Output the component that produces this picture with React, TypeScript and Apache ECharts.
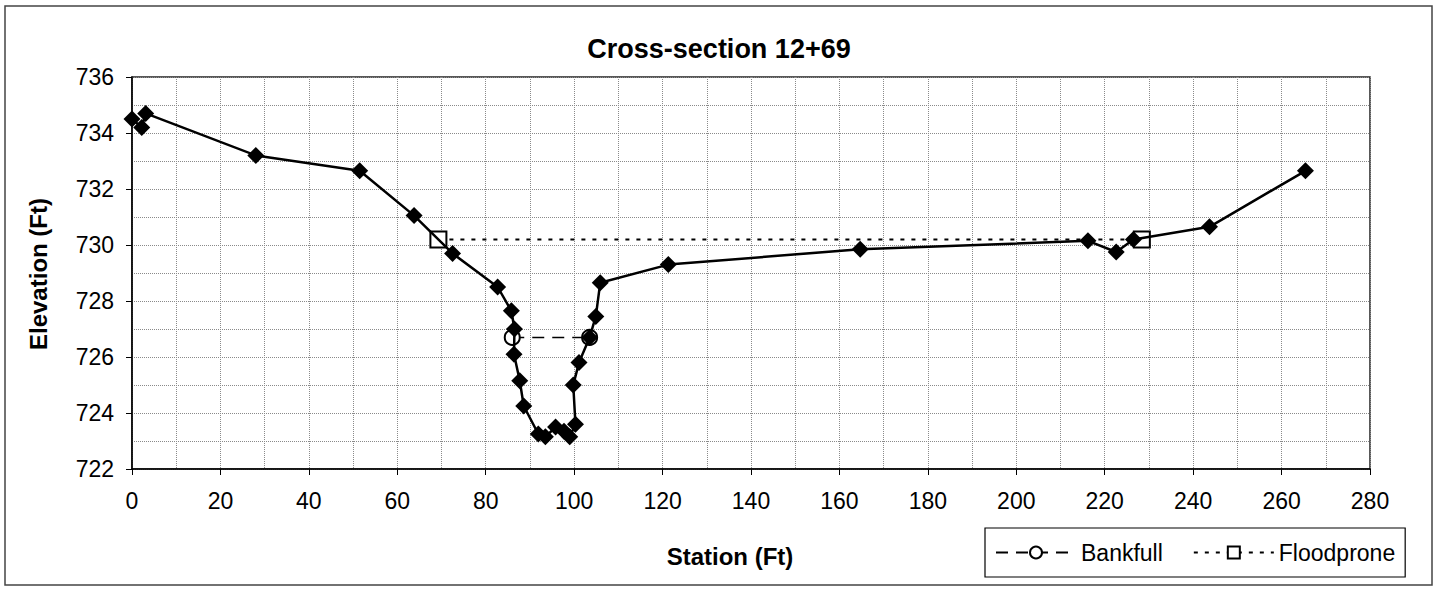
import React, { useEffect, useRef } from "react";
import * as echarts from "echarts";

const TITLE = "Cross-section 12+69";
const X_TITLE = "Station (Ft)";
const Y_TITLE = "Elevation (Ft)";

// Surveyed ground points (station, elevation)
const groundStation = [
  0, 2.2, 3.1, 28.0, 51.5, 63.8, 72.5, 82.7, 85.8, 86.5, 86.4, 87.7, 88.6,
  91.9, 93.5, 95.8, 97.7, 99.0, 100.3, 99.8, 101.1, 103.5, 104.9, 105.9,
  121.3, 164.7, 216.2, 222.6, 226.5, 243.7, 265.4,
];
const groundElevation = [
  734.5, 734.2, 734.7, 733.2, 732.65, 731.05, 729.7, 728.5, 727.65, 727.0,
  726.1, 725.15, 724.25, 723.25, 723.15, 723.5, 723.35, 723.15, 723.6, 725.0,
  725.8, 726.7, 727.45, 728.65, 729.3, 729.85, 730.15, 729.75, 730.2, 730.65,
  732.65,
];

const bankfullStation = [86.0, 103.5];
const bankfullElevation = [726.7, 726.7];

const floodproneStation = [69.3, 228.4];
const floodproneElevation = [730.2, 730.2];

const X_MIN = 0;
const X_MAX = 280;
const X_STEP = 20;
const Y_MIN = 722;
const Y_MAX = 736;
const Y_STEP = 2;

const FONT = "'Liberation Sans', Arial, Helvetica, sans-serif";

const zip = (xs: number[], ys: number[]) => xs.map((x, i) => [x, ys[i]]);

export default function App() {
  const ref = useRef<HTMLDivElement>(null);

  useEffect(() => {
    if (!ref.current) return;
    const chart = echarts.init(ref.current, null, { renderer: "svg" });
    const grid = "#8a8a8a";
    const option: any = {
      animation: false,
      backgroundColor: "#fff",
      textStyle: { fontFamily: FONT, color: "#000" },
      title: {
        text: TITLE,
        left: "center",
        top: 30,
        textStyle: { fontFamily: FONT, fontSize: 27, fontWeight: "bold", color: "#000" },
      },
      grid: {
        left: 132,
        top: 77,
        right: 68,
        bottom: 120,
        show: true,
        borderColor: "#222",
        borderWidth: 1.5,
        backgroundColor: "transparent",
      },
      legend: {
        data: ["Bankfull", "Floodprone"],
        left: 985,
        top: 528,
        orient: "horizontal",
        padding: [13, 10, 13, 10],
        itemWidth: 80,
        itemHeight: 15,
        itemGap: 30,
        borderColor: "#000",
        borderWidth: 1.2,
        backgroundColor: "#fff",
        textStyle: { fontFamily: FONT, fontSize: 23, color: "#000" },
      },
      xAxis: {
        type: "value",
        min: X_MIN,
        max: X_MAX,
        interval: X_STEP,
        axisLine: { show: true, onZero: false, lineStyle: { color: "#000", width: 1.5 } },
        axisTick: { show: true, inside: false, length: 6, lineStyle: { color: "#000", width: 1 } },
        axisLabel: { fontFamily: FONT, fontSize: 23, color: "#000", margin: 20 },
        splitLine: { show: true, lineStyle: { color: grid, type: "dotted", width: 1 } },
        minorTick: { show: false, splitNumber: 2 },
        minorSplitLine: { show: true, lineStyle: { color: grid, type: "dotted", width: 1 } },
      },
      yAxis: {
        type: "value",
        min: Y_MIN,
        max: Y_MAX,
        interval: Y_STEP,
        axisLine: { show: true, onZero: false, lineStyle: { color: "#000", width: 1.5 } },
        axisTick: { show: true, inside: false, length: 6, lineStyle: { color: "#000", width: 1 } },
        axisLabel: { fontFamily: FONT, fontSize: 23, color: "#000", margin: 18 },
        splitLine: { show: true, lineStyle: { color: grid, type: "dotted", width: 1 } },
        minorTick: { show: false, splitNumber: 2 },
        minorSplitLine: { show: true, lineStyle: { color: grid, type: "dotted", width: 1 } },
      },
      graphic: [
        {
          type: "rect",
          z: -10,
          silent: true,
          shape: { x: 5, y: 6, width: 1427, height: 579 },
          style: { fill: "none", stroke: "#444", lineWidth: 1.5 },
        },
        {
          type: "text",
          x: 38,
          y: 274,
          rotation: Math.PI / 2,
          silent: true,
          style: {
            text: Y_TITLE,
            fill: "#000",
            font: `bold 24px ${FONT}`,
            textAlign: "center",
            textVerticalAlign: "middle",
          },
        },
        {
          type: "text",
          x: 730,
          y: 556,
          silent: true,
          style: {
            text: X_TITLE,
            fill: "#000",
            font: `bold 24px ${FONT}`,
            textAlign: "center",
            textVerticalAlign: "middle",
          },
        },
      ],
      series: [
        {
          name: "Bankfull",
          type: "line",
          data: zip(bankfullStation, bankfullElevation),
          symbol: "emptyCircle",
          symbolSize: 15,
          z: 2,
          lineStyle: { color: "#000", width: 1.5, type: [12, 8] },
          itemStyle: { color: "#000", borderColor: "#000", borderWidth: 1.5 },
        },
        {
          name: "Floodprone",
          type: "line",
          data: zip(floodproneStation, floodproneElevation),
          symbol: "emptyRect",
          symbolSize: 16,
          z: 2,
          lineStyle: { color: "#000", width: 2, type: [4, 7] },
          itemStyle: { color: "#000", borderColor: "#000", borderWidth: 1.5 },
        },
        {
          name: "Ground",
          type: "line",
          data: zip(groundStation, groundElevation),
          symbol: "diamond",
          symbolSize: 17,
          z: 3,
          lineStyle: { color: "#000", width: 2.5 },
          itemStyle: { color: "#000" },
        },
      ],
    };
    chart.setOption(option);
    return () => chart.dispose();
  }, []);

  return (
    <div
      ref={ref}
      style={{ position: "fixed", left: 0, top: 0, width: 1438, height: 589, background: "#fff" }}
    />
  );
}
